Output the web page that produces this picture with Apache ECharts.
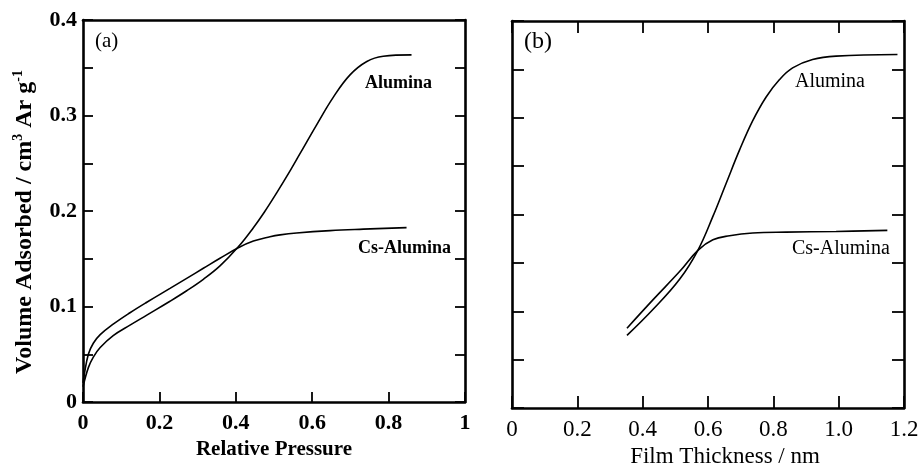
<!DOCTYPE html>
<html>
<head>
<meta charset="utf-8">
<script src="https://cdn.jsdelivr.net/npm/echarts@6/dist/echarts.min.js"></script>
<style>
html,body{margin:0;padding:0;background:#fff;}
#c{width:920px;height:463px;}
</style>
</head>
<body>
<div id="c"></div>
<script>
// Panel (a): volume adsorbed vs relative pressure
const pressureAlumina = [0, 0.014, 0.027, 0.045, 0.079, 0.123, 0.167, 0.2277, 0.2714, 0.315, 0.3586, 0.4066, 0.446, 0.475, 0.507, 0.542, 0.568, 0.612, 0.655, 0.699, 0.743, 0.786, 0.860];
const volumeAlumina   = [0.016, 0.036, 0.047, 0.057, 0.0695, 0.0805, 0.091, 0.1055, 0.1165, 0.1285, 0.1425, 0.1625, 0.1825, 0.199, 0.219, 0.242, 0.260, 0.2905, 0.319, 0.3425, 0.3565, 0.362, 0.3635];
const pressureCs = [0, 0.003, 0.014, 0.027, 0.045, 0.079, 0.123, 0.167, 0.2277, 0.2714, 0.315, 0.3586, 0.4066, 0.446, 0.4895, 0.516, 0.559, 0.647, 0.734, 0.847];
const volumeCs   = [0.020, 0.028, 0.050, 0.0615, 0.0705, 0.0815, 0.0935, 0.1045, 0.119, 0.1295, 0.140, 0.1505, 0.1615, 0.1685, 0.173, 0.175, 0.177, 0.1795, 0.181, 0.1826];

// Panel (b): volume adsorbed vs film thickness
const thickAlumina = [0.352, 0.432, 0.513, 0.569, 0.615, 0.656, 0.697, 0.737, 0.778, 0.819, 0.859, 0.920, 0.992, 1.18];
const volAluminaB  = [0.075, 0.102, 0.133, 0.163, 0.198, 0.2326, 0.267, 0.297, 0.3215, 0.3395, 0.3516, 0.3602, 0.3637, 0.3654];
const thickCs = [0.352, 0.432, 0.513, 0.569, 0.615, 0.666, 0.737, 0.839, 0.992, 1.149];
const volCsB  = [0.0825, 0.112, 0.141, 0.163, 0.1739, 0.178, 0.1808, 0.1818, 0.1825, 0.1836];

// Tick labels
const xTicksA = ['0', '0.2', '0.4', '0.6', '0.8', '1'];
const xTicksB = ['0', '0.2', '0.4', '0.6', '0.8', '1.0', '1.2'];
const yTicksA = ['0', '0.1', '0.2', '0.3', '0.4'];

const FONT = 'Liberation Serif';
const pairs = (xs, ys) => xs.map((x, i) => [x, ys[i]]);

function labelFromList(list, step) {
  return function (v) {
    const k = Math.round(v / step);
    if (Math.abs(k * step - v) > 1e-6) return '';
    return list[k] !== undefined ? list[k] : '';
  };
}

const lineStyleAxis = (w) => ({ show: true, lineStyle: { color: '#000', width: w } });

function xAxisCfg(grid, pos, max, showLabels, labels, tickLen, fontWeight, fontSize, showTicks, margin) {
  return {
    type: 'value', gridIndex: grid, position: pos, min: 0, max: max, interval: 0.2,
    axisLine: Object.assign(lineStyleAxis(2.6), { onZero: false }),
    axisTick: { show: showTicks, inside: true, length: tickLen, lineStyle: { color: '#000', width: 1.8 } },
    axisLabel: {
      show: showLabels, margin: margin || 10, color: '#000', fontFamily: FONT, fontSize: fontSize, fontWeight: fontWeight,
      formatter: labelFromList(labels || [], 0.2), showMinLabel: true, showMaxLabel: true
    },
    splitLine: { show: false }
  };
}
function yAxisCfg(grid, pos, showLabels, tickLen) {
  return {
    type: 'value', gridIndex: grid, position: pos, min: 0, max: 0.4, interval: 0.05,
    axisLine: Object.assign(lineStyleAxis(2.6), { onZero: false }),
    axisTick: { show: true, inside: true, length: tickLen, lineStyle: { color: '#000', width: 1.8 } },
    axisLabel: {
      show: showLabels, margin: 6, color: '#000', fontFamily: FONT, fontSize: 22, fontWeight: 'bold',
      formatter: labelFromList(yTicksA, 0.1)
    },
    splitLine: { show: false }
  };
}

const xA = xAxisCfg(0, 'bottom', 1, true, xTicksA, 10, 'bold', 22, true, 10);
xA.name = 'Relative Pressure';
xA.nameLocation = 'middle';
xA.nameGap = 37;
xA.nameTextStyle = { color: '#000', fontFamily: FONT, fontSize: 21, fontWeight: 'bold' };

const xB = xAxisCfg(1, 'bottom', 1.2, true, xTicksB, 12, 'normal', 23, true, 10);
xB.name = 'Film Thickness / nm';
xB.nameLocation = 'middle';
xB.nameGap = 35;
xB.nameTextStyle = { color: '#000', fontFamily: FONT, fontSize: 23, padding: [0, 0, 0, 34] };

const yA = yAxisCfg(0, 'left', true, 10);
yA.name = '{n|Volume Adsorbed / cm}{s|3}{n| Ar g}{s|-1}';
yA.nameLocation = 'middle';
yA.nameGap = 44;
yA.nameTextStyle = {
  color: '#000', fontFamily: FONT, fontSize: 24, fontWeight: 'bold',
  padding: [0, 22, 0, 0],
  rich: {
    n: { fontFamily: FONT, fontSize: 24, fontWeight: 'bold', color: '#000', lineHeight: 28 },
    s: { fontFamily: FONT, fontSize: 14, fontWeight: 'bold', color: '#000', verticalAlign: 'top', lineHeight: 15 }
  }
};

const option = {
  backgroundColor: '#fff',
  animation: false,
  grid: [
    { left: 83, top: 20, width: 382, height: 382, containLabel: false, outerBoundsMode: 'none' },
    { left: 512, top: 21, width: 392, height: 387, containLabel: false, outerBoundsMode: 'none' }
  ],
  xAxis: [
    xA,
    xAxisCfg(0, 'top', 1, false, null, 10, 'bold', 22, false),
    xB,
    xAxisCfg(1, 'top', 1.2, false, null, 12, 'normal', 23, true)
  ],
  yAxis: [
    yA,
    yAxisCfg(0, 'right', false, 10),
    yAxisCfg(1, 'left', false, 12),
    yAxisCfg(1, 'right', false, 12)
  ],
  series: [
    { name: 'Alumina (a)', type: 'line', xAxisIndex: 0, yAxisIndex: 0, data: pairs(pressureAlumina, volumeAlumina), smooth: 0.4, showSymbol: false, lineStyle: { color: '#000', width: 1.6 } },
    { name: 'Cs-Alumina (a)', type: 'line', xAxisIndex: 0, yAxisIndex: 0, data: pairs(pressureCs, volumeCs), smooth: 0.4, showSymbol: false, lineStyle: { color: '#000', width: 1.6 } },
    { name: 'Alumina (b)', type: 'line', xAxisIndex: 2, yAxisIndex: 2, data: pairs(thickAlumina, volAluminaB), smooth: 0.4, showSymbol: false, lineStyle: { color: '#000', width: 1.6 } },
    { name: 'Cs-Alumina (b)', type: 'line', xAxisIndex: 2, yAxisIndex: 2, data: pairs(thickCs, volCsB), smooth: 0.4, showSymbol: false, lineStyle: { color: '#000', width: 1.6 } }
  ],
  graphic: [
    { type: 'text', left: 95, top: 31, style: { text: '(a)', fontFamily: FONT, fontSize: 21, fill: '#000' } },
    { type: 'text', left: 365, top: 74, style: { text: 'Alumina', fontFamily: FONT, fontSize: 18, fontWeight: 'bold', fill: '#000' } },
    { type: 'text', left: 358, top: 239, style: { text: 'Cs-Alumina', fontFamily: FONT, fontSize: 18, fontWeight: 'bold', fill: '#000' } },
    { type: 'text', left: 524, top: 30, style: { text: '(b)', fontFamily: FONT, fontSize: 24, fill: '#000' } },
    { type: 'text', left: 795, top: 72, style: { text: 'Alumina', fontFamily: FONT, fontSize: 20, fill: '#000' } },
    { type: 'text', left: 792, top: 239, style: { text: 'Cs-Alumina', fontFamily: FONT, fontSize: 20, fill: '#000' } }
  ]
};

const chart = echarts.init(document.getElementById('c'), null, { renderer: 'canvas' });
chart.setOption(option);
</script>
</body>
</html>
